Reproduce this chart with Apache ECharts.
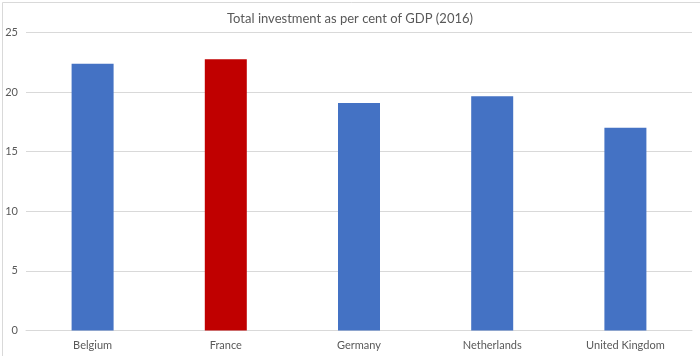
<!DOCTYPE html>
<html><head><meta charset="utf-8">
<script src="https://cdn.jsdelivr.net/npm/echarts@6/dist/echarts.min.js"></script>
<style>html,body{margin:0;padding:0;background:#fff}#c{width:700px;height:356px}</style>
</head><body><div id="c"></div>
<script>
const categories = ['Belgium', 'France', 'Germany', 'Netherlands', 'United Kingdom'];
const values = [22.38, 22.75, 19.09, 19.65, 17.01];
const highlight = 'France';
const yTicks = [0, 5, 10, 15, 20, 25];

const chart = echarts.init(document.getElementById('c'), null, {renderer: 'canvas'});
chart.setOption({
  animation: false,
  backgroundColor: '#fff',
  title: {
    text: 'Total investment as per cent of GDP (2016)',
    left: 'center', top: 7,
    textStyle: {fontFamily: 'Lato', fontSize: 13, fontWeight: 'normal', color: '#595959'}
  },
  graphic: [{
    type: 'rect', left: 0, top: 0,
    shape: {x: 0.5, y: 0.5, width: 699, height: 355},
    style: {fill: 'none', stroke: '#d9d9d9', lineWidth: 1}, silent: true
  }],
  grid: {left: 26, right: 8, top: 32.5, bottom: 25.5, containLabel: false},
  xAxis: {
    type: 'category', data: categories,
    axisLine: {lineStyle: {color: '#d9d9d9'}},
    axisTick: {show: false},
    axisLabel: {color: '#595959', fontFamily: 'Lato', fontSize: 11, margin: 9}
  },
  yAxis: {
    type: 'value', min: yTicks[0], max: yTicks[yTicks.length - 1], interval: 5,
    axisLine: {show: false}, axisTick: {show: false},
    splitLine: {lineStyle: {color: '#d9d9d9'}},
    axisLabel: {color: '#595959', fontFamily: 'Lato', fontSize: 11, margin: 8}
  },
  series: [{
    type: 'bar', barWidth: 42,
    data: values.map((v, i) => ({
      value: v,
      itemStyle: {color: categories[i] === highlight ? '#C00000' : '#4472C4'}
    }))
  }]
});
</script></body></html>
